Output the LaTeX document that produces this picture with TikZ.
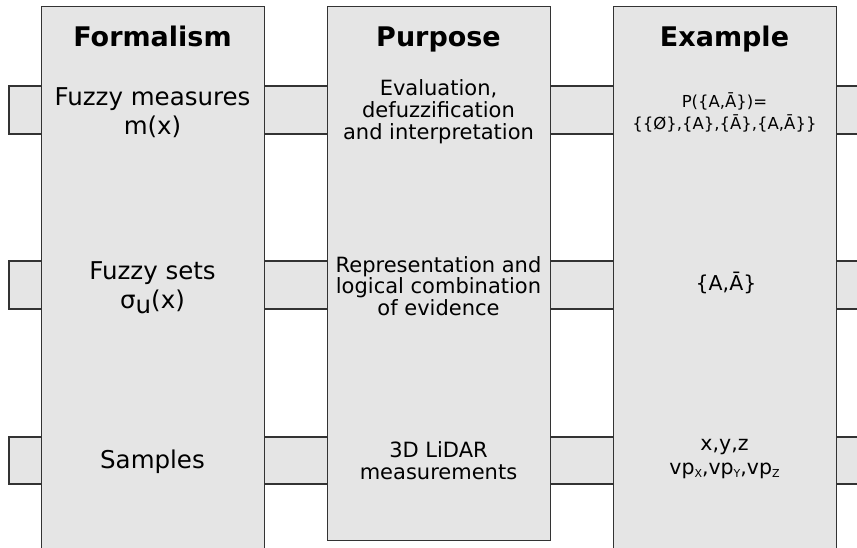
\documentclass[tikz,border=0pt]{standalone}
\usepackage{fontspec}
\setmainfont{DejaVu Sans}
\definecolor{boxfill}{HTML}{E5E5E5}
\definecolor{boxline}{HTML}{333333}
\newcommand{\lowsub}[2]{#1\raisebox{-0.25ex}{\fontsize{11}{11}\selectfont #2}}
\begin{document}
\begin{tikzpicture}[x=1pt,y=-1pt,
  column/.style={draw=boxline,fill=boxfill,line width=1.3pt},
  bar/.style={draw=boxline,fill=boxfill,line width=1.3pt},
  heading/.style={font=\bfseries\fontsize{27}{30}\selectfont,anchor=base,inner sep=0pt},
  ftext/.style={font=\fontsize{24.5}{29}\selectfont,align=center,inner sep=0pt},
  ptext/.style={font=\fontsize{21}{21.8}\selectfont,align=center,inner sep=0pt},
  etext/.style={font=\fontsize{16.5}{22}\selectfont,align=center,inner sep=0pt},
  etextbig/.style={font=\fontsize{20.5}{24}\selectfont,align=center,inner sep=0pt}]
\clip (0,0) rectangle (857,547);
\fill[white] (0,0) rectangle (857,547);
% horizontal bars (behind columns)
\path[bar] (9,86) rectangle (880,134);
\path[bar] (9,261) rectangle (880,309);
\path[bar] (9,437) rectangle (880,484);
% columns
\node[column,minimum width=223pt,minimum height=600pt,anchor=north west,inner sep=0pt] (colF) at (41,6) {};
\node[column,minimum width=223pt,minimum height=534pt,anchor=north west,inner sep=0pt] (colP) at (327,6) {};
\node[column,minimum width=223pt,minimum height=600pt,anchor=north west,inner sep=0pt] (colE) at (613,6) {};
% headings
\node[heading] (hF) at (152.5,46) {Formalism};
\node[heading] (hP) at (438.5,46) {Purpose};
\node[heading] (hE) at (724.5,46) {Example};
% formalism column
\node[ftext] (f1) at (152.5,113) {Fuzzy measures\\m(x)};
\node[ftext] (f2) at (152.5,288) {Fuzzy sets\\σ\raisebox{-0.35ex}{u}(x)};
\node[ftext] (f3) at (152.5,462) {Samples};
% purpose column
\node[ptext] (p1) at (438.5,112) {Evaluation,\\defuzzification\\and interpretation};
\node[ptext] (p2) at (438.5,286) {Representation and\\logical combination\\of evidence};
\node[ptext] (p3) at (438.5,461) {3D LiDAR\\measurements};
% example column
\node[etext] (e1) at (724.5,112) {P(\{A,Ā\})=\\\{\{Ø\},\{A\},\{Ā\},\{A,Ā\}\}};
\node[etextbig] (e2) at (726,283) {\{A,Ā\}};
\node[etextbig] (e3) at (724.5,459) {x,y,z\\\lowsub{vp}{X},\lowsub{vp}{Y},\lowsub{vp}{Z}};
\end{tikzpicture}
\end{document}
